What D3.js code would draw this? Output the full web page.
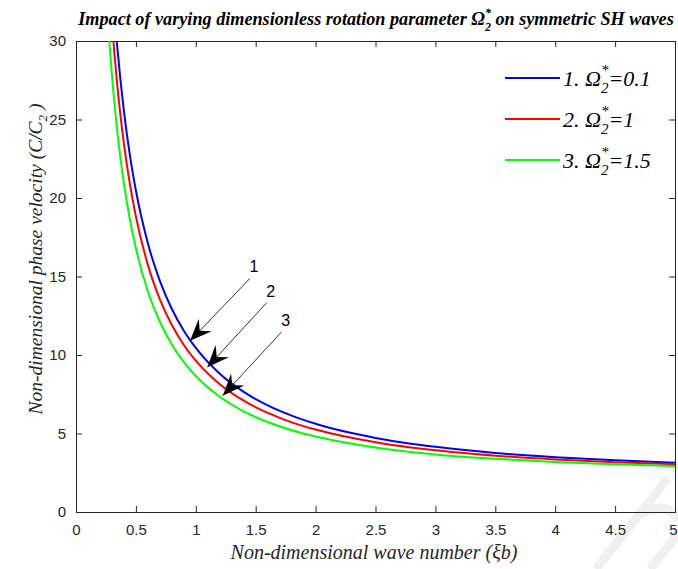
<!DOCTYPE html>
<html>
<head>
<meta charset="utf-8">
<script src="https://cdn.jsdelivr.net/npm/d3@7/dist/d3.min.js"></script>
<style>
  body { margin: 0; background: #fff; }
  svg text { fill: #262626; }
  .tick text { font-family: "Liberation Sans", Arial, sans-serif; font-size: 15px; }
  .serif { font-family: "Liberation Serif", "Times New Roman", serif; font-style: italic; }
</style>
</head>
<body>
<script>
// wave number samples and phase velocity per curve
var waveNumber = [0.26, 0.28, 0.30, 0.32, 0.34, 0.37, 0.40, 0.45, 0.50, 0.6, 0.7, 0.8, 0.9, 1.0,
                  1.2, 1.4, 1.6, 1.8, 2.0, 2.5, 3.0, 3.5, 4.0, 4.5, 5.0];
var omega01 = [39.2, 36.4, 33.98, 31.87, 30.0, 27.59, 25.53, 22.72, 20.48, 17.12, 14.72, 12.93, 11.55, 10.45,
               8.81, 7.65, 6.79, 6.14, 5.62, 4.72, 4.15, 3.76, 3.49, 3.29, 3.14];
var omega1 = [35.98, 33.42, 31.2, 29.26, 27.55, 25.34, 23.45, 20.88, 18.82, 15.74, 13.55, 11.91, 10.64, 9.64,
              8.14, 7.09, 6.31, 5.71, 5.25, 4.44, 3.93, 3.59, 3.35, 3.17, 3.04];
var omega15 = [32.06, 29.79, 27.81, 26.09, 24.57, 22.6, 20.92, 18.63, 16.8, 14.06, 12.12, 10.67, 9.55, 8.66,
               7.34, 6.41, 5.73, 5.21, 4.81, 4.11, 3.67, 3.39, 3.18, 3.04, 2.93];
var seriesNames = ["1. ", "2. ", "3. "];
var seriesValues = ["=0.1", "=1", "=1.5"];
var xTicks = [0, 0.5, 1, 1.5, 2, 2.5, 3, 3.5, 4, 4.5, 5];
var yTicks = [0, 5, 10, 15, 20, 25, 30];
// arrow annotations: label, start point, tip point (data units)
var arrowLabels = ["1", "2", "3"];
var arrowStart = [[1.452, 14.88], [1.592, 13.33], [1.717, 11.48]];
var arrowTip = [[0.952, 10.9], [1.096, 9.22], [1.225, 7.41]];

var W = 678, H = 569;
var margin = {left: 76, top: 41, right: 3, bottom: 57};
var colors = ["#0000ff", "#ff0000", "#00ff00"];

var svg = d3.select("body").append("svg")
  .attr("width", W).attr("height", H);

var x = d3.scaleLinear().domain([0, 5]).range([margin.left, W - margin.right]);
var y = d3.scaleLinear().domain([0, 30]).range([H - margin.bottom, margin.top]);

svg.append("clipPath").attr("id", "clip")
  .append("rect")
  .attr("x", x(0)).attr("y", y(30))
  .attr("width", x(5) - x(0)).attr("height", y(0) - y(30));

// faint watermark strokes at bottom right
svg.append("path")
  .attr("d", "M596,569 L668,478 M640,514 Q668,500 678,520 M650,569 L678,534")
  .attr("fill", "none")
  .attr("stroke", "#f0f0f0")
  .attr("stroke-width", 9);

// axes, inward ticks on all four sides
var tickLen = 6;
svg.append("g").attr("class", "x axis")
  .attr("transform", "translate(0," + y(0) + ")")
  .call(d3.axisBottom(x).tickValues(xTicks).tickSize(-tickLen).tickPadding(12)
    .tickFormat(function(d) { return d; }));
svg.append("g")
  .attr("transform", "translate(0," + y(30) + ")")
  .call(d3.axisTop(x).tickValues(xTicks).tickSize(-tickLen).tickFormat(""));
svg.append("g").attr("class", "y axis")
  .attr("transform", "translate(" + x(0) + ",0)")
  .call(d3.axisLeft(y).tickValues(yTicks).tickSize(-tickLen).tickPadding(10));
svg.append("g")
  .attr("transform", "translate(" + x(5) + ",0)")
  .call(d3.axisRight(y).tickValues(yTicks).tickSize(-tickLen).tickFormat(""));
svg.selectAll(".domain").attr("stroke", "#262626").attr("stroke-width", 1);
svg.selectAll(".tick line").attr("stroke", "#262626");
svg.selectAll(".tick text").style("fill", "#262626");
// keep the last x label inside the page
svg.selectAll(".x.axis .tick text").filter(function(d) { return d === 5; }).attr("dx", -2);

// curves
var line = d3.line()
  .x(function(d) { return x(d[0]); })
  .y(function(d) { return y(d[1]); })
  .curve(d3.curveMonotoneX);

[omega01, omega1, omega15].forEach(function(vals, i) {
  svg.append("path")
    .datum(waveNumber.map(function(w, j) { return [w, vals[j]]; }))
    .attr("clip-path", "url(#clip)")
    .attr("fill", "none")
    .attr("stroke", colors[i])
    .attr("stroke-width", 2)
    .attr("d", line);
});

// arrows
arrowLabels.forEach(function(lab, i) {
  var sx = x(arrowStart[i][0]), sy = y(arrowStart[i][1]);
  var tx = x(arrowTip[i][0]), ty = y(arrowTip[i][1]);
  var ang = Math.atan2(ty - sy, tx - sx) * 180 / Math.PI;
  svg.append("line")
    .attr("x1", sx).attr("y1", sy).attr("x2", tx).attr("y2", ty)
    .attr("stroke", "#000").attr("stroke-width", 0.8);
  svg.append("path")
    .attr("transform", "translate(" + tx + "," + ty + ") rotate(" + ang + ")")
    .attr("d", "M0,0 L-22,-9 L-14,0 L-22,9 Z")
    .attr("fill", "#000");
  svg.append("text")
    .attr("x", sx + 4).attr("y", sy - 6)
    .attr("text-anchor", "middle")
    .style("font-family", "Liberation Sans, Arial, sans-serif")
    .style("font-size", "16px")
    .style("fill", "#000")
    .text(lab);
});

// legend
var legX = 505, legY = [78, 119, 160], fs = 22;
seriesNames.forEach(function(name, i) {
  svg.append("line")
    .attr("x1", legX).attr("x2", legX + 55)
    .attr("y1", legY[i]).attr("y2", legY[i])
    .attr("stroke", colors[i]).attr("stroke-width", 2);
  var t = svg.append("text").attr("class", "serif")
    .attr("x", legX + 58).attr("y", legY[i] + 8)
    .style("font-size", fs + "px")
    .style("fill", "#000");
  t.append("tspan").text(name + "\u03a9");
  t.append("tspan").attr("dy", 7).style("font-size", "15px").text("2");
  t.append("tspan").attr("dx", -7.5).attr("dy", -18).style("font-size", "15px").text("*");
  t.append("tspan").attr("dy", 11).text(seriesValues[i]);
});

// title
var title = svg.append("text").attr("class", "serif")
  .attr("x", 376).attr("y", 25)
  .attr("text-anchor", "middle")
  .style("font-size", "18.2px").style("font-weight", "bold")
  .style("fill", "#000");
title.append("tspan").text("Impact of varying dimensionless rotation parameter \u03a9");
title.append("tspan").attr("dy", 6).style("font-size", "12px").text("2");
title.append("tspan").attr("dx", -6).attr("dy", -14).style("font-size", "12px").text("*");
title.append("tspan").attr("dy", 8).text(" on symmetric SH waves");

// axis labels
svg.append("text").attr("class", "serif")
  .attr("x", 374).attr("y", 559)
  .attr("text-anchor", "middle")
  .style("font-size", "20px")
  .text("Non-dimensional wave number (\u03beb)");

var yl = svg.append("text").attr("class", "serif")
  .attr("transform", "translate(42,259) rotate(-90)")
  .attr("text-anchor", "middle")
  .style("font-size", "19.5px");
yl.append("tspan").text("Non-dimensional phase velocity (C/C");
yl.append("tspan").attr("dy", 5).style("font-size", "13px").text("2");
yl.append("tspan").attr("dy", -5).text(" )");
</script>
</body>
</html>
